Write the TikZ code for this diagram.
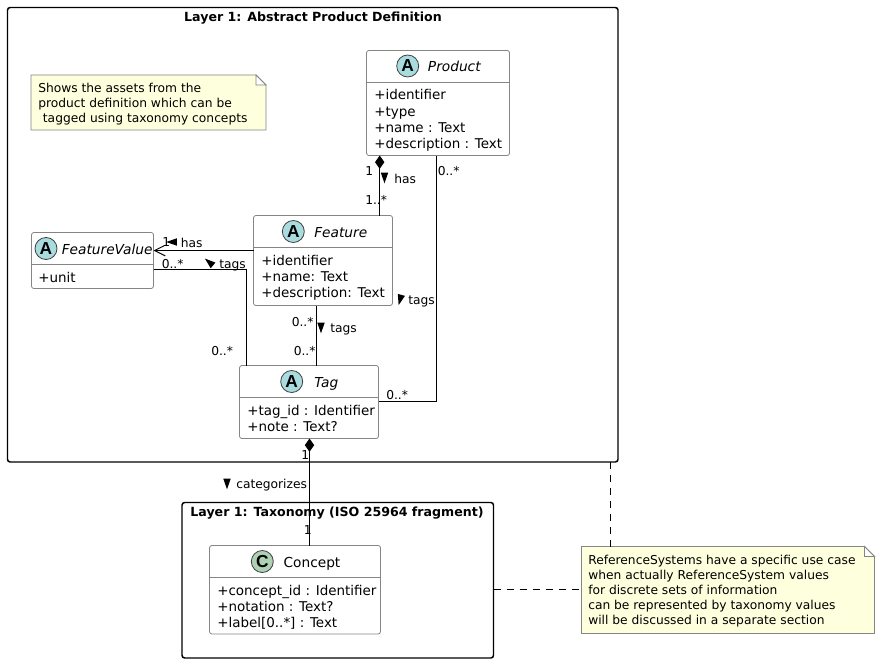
\documentclass[tikz,border=0pt]{standalone}
\usepackage{fontspec}
\setmainfont{DejaVu Sans}
\newfontfamily\markfont{Liberation Sans}
\usetikzlibrary{arrows.meta,fit}
\definecolor{abstractmark}{HTML}{A9DCDF}
\definecolor{classmark}{HTML}{ADD1B2}
\definecolor{notefill}{HTML}{FEFFDD}
\definecolor{boxline}{HTML}{858585}
\newcommand{\px}{0.75pt}
\newcommand{\notepath}[1]{
\draw [notebox] (#1.south west) -- (#1.north west) -- ([xshift=-10*\px]#1.north east) -- ([yshift=-10*\px]#1.north east) -- (#1.south east) -- cycle;
\draw [notebox, fill = white] ([xshift=-10*\px]#1.north east) -- ([xshift=-10*\px,yshift=-10*\px]#1.north east) -- ([yshift=-10*\px]#1.north east) -- cycle;
}
\newcommand{\dirmark}[3]{\fill [shift = {(#1,#2)}, rotate = #3] (-3.7,-5.3) -- (3.7,-5.3) -- (0,5.3) -- cycle;}
\tikzset{
  layerbox/.style = {draw = black, line width = 1.1pt, rounded corners = 2pt, inner sep = 0, outer sep = 0},
  classbox/.style = {draw = boxline, line width = 0.6pt, fill = white, rounded corners = 1.8pt, inner sep = 0, outer sep = 0},
  classline/.style = {draw = boxline, line width = 0.6pt},
  notebox/.style = {draw = boxline, line width = 0.6pt, fill = notefill},
  noteanchor/.style = {inner sep = 0, outer sep = 0},
  marknode/.style = {circle, draw = black!75, line width = 0.6pt, minimum size = 16.5pt, inner sep = 0, font = \markfont\fontsize{13pt}{14pt}\selectfont\bfseries},
  layertitle/.style = {inner sep = 0, font = \fontsize{9.45pt}{11pt}\selectfont\bfseries},
  classname/.style = {inner sep = 0, anchor = base west, font = \fontsize{10.3pt}{12pt}\selectfont\itshape},
  attrs/.style = {inner sep = 0, anchor = north west, align = left, font = \fontsize{10.1pt}{12.25pt}\selectfont},
  notetext/.style = {inner sep = 0, anchor = north west, align = left, font = \fontsize{9.2pt}{11.4pt}\selectfont},
  lbl/.style = {inner sep = 0, anchor = base west, font = \fontsize{9.2pt}{11pt}\selectfont},
  assoc/.style = {draw = black, line width = 0.75pt},
  dashline/.style = {draw = black, line width = 0.6pt, dash pattern = on 5.25pt off 4.5pt}
}
\begin{document}
\begin{tikzpicture}[x = 0.75pt, y = -0.75pt]
\useasboundingbox (0,0) rectangle (880,663);
% layers
\node [layerbox, fit = {(7.5,7.5)(618,462)}] (layerabstract) {};
\node [layertitle] (layerabstracttitle) at (313,18) {Layer 1: Abstract Product Definition};
\node [layerbox, fit = {(182,502.5)(493.5,658)}] (layertaxonomy) {};
\node [layertitle] (layertaxonomytitle) at (337,513) {Layer 1: Taxonomy (ISO 25964 fragment)};
% classes
\node [classbox, fit = {(366.5,50.5)(509.5,155.5)}] (product) {};
\node [classbox, fit = {(253.5,215.5)(392.5,305.5)}] (feature) {};
\node [classbox, fit = {(31.5,232.5)(153.5,288.5)}] (featurevalue) {};
\node [classbox, fit = {(239.5,365.5)(378.5,438.5)}] (tag) {};
\node [classbox, fit = {(209.5,545.5)(380.5,634)}] (concept) {};
\foreach \n/\y in {product/82.5, feature/247.5, featurevalue/264.5, tag/397.5, concept/577.5}
  \draw [classline] (\n.west |- 0,\y) -- (\n.east |- 0,\y);
\node [marknode, fill = abstractmark] (productmark) at (407.7,66) {A};
\node [marknode, fill = abstractmark] (featuremark) at (293.3,231.5) {A};
\node [marknode, fill = abstractmark] (featurevaluemark) at (46,248.5) {A};
\node [marknode, fill = abstractmark] (tagmark) at (291.7,381.5) {A};
\node [marknode, fill = classmark] (conceptmark) at (262.3,561.5) {C};
\node [classname] (productname) at (427.7,71.5) {Product};
\node [classname] (featurename) at (314,237) {Feature};
\node [classname] (featurevaluename) at (61.5,254) {FeatureValue};
\node [classname] (tagname) at (314,387) {Tag};
\node [classname, font = \fontsize{10.3pt}{12pt}\selectfont] (conceptname) at (283.3,567) {Concept};
\node [attrs] (productattrs) at (374,89.5) {+identifier\\+type\\+name : Text\\+description : Text};
\node [attrs] (featureattrs) at (261,254.5) {+identifier\\+name: Text\\+description: Text};
\node [attrs] (featurevalueattrs) at (38,271.5) {+unit};
\node [attrs] (tagattrs) at (247,404.5) {+tag\_id : Identifier\\+note : Text?};
\node [attrs] (conceptattrs) at (217,584.5) {+concept\_id : Identifier\\+notation : Text?\\+label[0..*] : Text};
% notes
\node [noteanchor, fit = {(31,75)(266,130)}] (noteassets) {};
\notepath{noteassets}
\node [notetext] (noteassetstext) at (38,83) {Shows the assets from the\\product definition which can be\\\hspace*{3.5pt}tagged using taxonomy concepts};
\node [noteanchor, fit = {(581.5,546.5)(874.5,633.5)}] (notesystems) {};
\notepath{notesystems}
\node [notetext] (notesystemstext) at (588,554.5) {ReferenceSystems have a specific use case\\when actually ReferenceSystem values\\for discrete sets of information\\can be represented by taxonomy values\\will be discussed in a separate section};
% connectors
\draw [assoc, {Diamond[length=10pt,width=7pt]}-] ([xshift=13.2*\px]product.south west) coordinate (productfoot) -- (productfoot |- feature.north);
\draw [assoc] ([xshift=70.2*\px]product.south west) coordinate (producttail) -- (producttail |- 0,401.5) -- (tag.east |- 0,401.5);
\draw [assoc, -{Straight Barb[length=8pt,width=8pt]}] (feature.west |- 0,250.5) -- (featurevalue.east |- 0,250.5);
\draw [assoc] (featurevalue.east |- 0,269.5) -- (246.7,269.5) coordinate (tagelbow) -- (tagelbow |- tag.north);
\draw [assoc] ([xshift=63.2*\px]feature.south west) coordinate (featurefoot) -- (featurefoot |- tag.north);
\draw [assoc, {Diamond[length=10pt,width=7pt]}-] ([xshift=70*\px]tag.south west) coordinate (tagfoot) -- (tagfoot |- concept.north);
\draw [dashline] (610.5,462) coordinate (dashtop) -- (dashtop |- notesystems.north);
\draw [dashline] (layertaxonomy.east |- 0,589.5) -- (notesystems.west |- 0,589.5);
% connector labels
\node [lbl] (mproducta) at (365,175) {1};
\node [lbl] (mfeaturea) at (365,204.5) {1..*};
\dirmark{384.5}{178}{0}
\node [lbl] (lhasa) at (394,183) {has};
\node [lbl] (mproductb) at (437.5,175) {0..*};
\node [lbl] (mtagb) at (386,399) {0..*};
\dirmark{400}{300}{-15}
\node [lbl] (ltagsb) at (408,304) {tags};
\node [lbl] (mfvb) at (162,246.5) {1};
\dirmark{171.5}{242}{-90}
\node [lbl] (lhasb) at (180.5,247) {has};
\node [lbl] (mfvc) at (161.5,268) {0..*};
\dirmark{209}{262}{-130}
\node [lbl] (ltagsc) at (219,268) {tags};
\node [lbl] (mtagc) at (211,355) {0..*};
\node [lbl] (mfeatured) at (291.5,326) {0..*};
\node [lbl] (mtagd) at (293.5,355) {0..*};
\dirmark{321}{328}{0}
\node [lbl] (ltagsd) at (330,332.5) {tags};
\node [lbl] (mtage) at (301,459) {1};
\node [lbl] (mconcepte) at (303.5,534.5) {1};
\dirmark{227}{484}{0}
\node [lbl] (lcategorizes) at (236,488) {categorizes};
\end{tikzpicture}
\end{document}
